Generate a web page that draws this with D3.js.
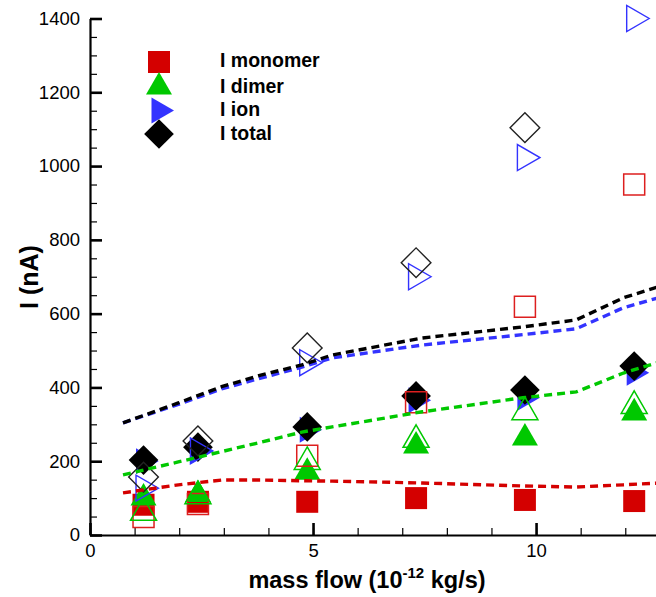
<!DOCTYPE html>
<html>
<head>
<meta charset="utf-8">
<script src="https://cdn.jsdelivr.net/npm/d3@7"></script>
<style>
  html, body { margin: 0; padding: 0; background: #fff; }
  svg { display: block; font-family: "Liberation Sans", Arial, Helvetica, sans-serif; }
</style>
</head>
<body>
<svg id="chart" width="656" height="597"></svg>
<script>
// ---- data ----
const massFlow = [1.2, 2.42, 4.87, 7.31, 9.75, 12.2];

// filled markers
const monomerFilled = [82, 90, 90, 100, 95, 92];
const dimerFilled   = [100, 110, 170, 241, 263, 331];
const ionFilled     = [200, 228, 285, 365, 372, 440];
const totalFilled   = [203, 238, 293, 377, 393, 458];

// open markers
const monomerOpen = [49, 84, 215, 360, 619, 950];
const dimerOpen   = [60, 105, 198, 258, 333, 350];
const ionOpen     = [127, 228, 467, 700, 1023, 1400];
const totalOpen   = [157, 255, 507, 738, 1104, null];

// dashed model curves
const modelX     = [0.74, 1.98, 2.95, 3.85, 4.75, 5.43, 7.45, 9.7, 10.9, 11.96, 12.8];
const modelTotal = [304, 358, 402, 434, 461, 488, 534, 564, 583, 643, 675];
const modelIon   = [304, 354, 396, 426, 455, 480, 515, 543, 559, 616, 645];
const modelDimer = [163, 198, 226, 252, 279, 293, 334, 372, 388, 439, 470];
const modelMono  = [114, 136, 149, 149, 147, 146, 141, 133, 130, 136, 141];

const xTicks = [0, 5, 10];
const yTicks = [0, 200, 400, 600, 800, 1000, 1200, 1400];
const legendLabels = ["I monomer", "I dimer", "I ion", "I total"];

const RED = "#d40000", GREEN = "#00c800", BLUE = "#3333ff", BLACK = "#000000";

// ---- scales ----
const x = d3.scaleLinear().domain([0, 12.7]).range([90, 656.5]);
const y = d3.scaleLinear().domain([0, 1400]).range([535, 18.5]);

const svg = d3.select("#chart");

svg.append("defs").append("clipPath").attr("id", "plotclip")
  .append("rect").attr("x", 90).attr("y", 0).attr("width", 570).attr("height", 536);

// ---- axes ----
const yMinor = d3.axisLeft(y).tickValues(d3.range(0, 1401, 50)).tickSize(-7).tickSizeOuter(0).tickFormat("");
const gYm = svg.append("g").attr("transform", `translate(${x(0)},0)`).call(yMinor);
gYm.select(".domain").remove();
gYm.selectAll("line").attr("stroke", "#000").attr("stroke-width", 1.2);

const yAxis = d3.axisLeft(y).tickValues(yTicks).tickSize(-12).tickSizeOuter(0).tickPadding(10)
  .tickFormat(d3.format("d"));
const gY = svg.append("g").attr("transform", `translate(${x(0)},0)`).call(yAxis);
gY.select(".domain").attr("stroke", "#000").attr("stroke-width", 2.2);
gY.selectAll("line").attr("stroke", "#000").attr("stroke-width", 2.6);
gY.selectAll("text").attr("font-size", 18.5).attr("fill", "#000").attr("font-family", "Liberation Sans, Arial, sans-serif");

const xMinor = d3.axisBottom(x).tickValues(d3.range(0, 13, 1)).tickSize(-7).tickSizeOuter(0).tickFormat("");
const gXm = svg.append("g").attr("transform", `translate(0,${y(0)})`).call(xMinor);
gXm.select(".domain").remove();
gXm.selectAll("line").attr("stroke", "#000").attr("stroke-width", 1.2);

const xAxis = d3.axisBottom(x).tickValues(xTicks).tickSize(-12).tickSizeOuter(0).tickPadding(9)
  .tickFormat(d3.format("d"));
const gX = svg.append("g").attr("transform", `translate(0,${y(0)})`).call(xAxis);
gX.select(".domain").attr("stroke", "#000").attr("stroke-width", 2.2);
gX.selectAll("line").attr("stroke", "#000").attr("stroke-width", 2.6);
gX.selectAll("text").attr("font-size", 18.5).attr("fill", "#000").attr("font-family", "Liberation Sans, Arial, sans-serif");

// axis titles
const xt = svg.append("text").attr("x", 367).attr("y", 588).attr("text-anchor", "middle")
  .attr("font-size", 23.5).attr("font-weight", "bold").attr("fill", "#000");
xt.append("tspan").text("mass flow (10");
xt.append("tspan").attr("font-size", 15).attr("dy", -10).text("-12");
xt.append("tspan").attr("dy", 10).text(" kg/s)");

svg.append("text").attr("transform", "translate(38,277) rotate(-90)").attr("text-anchor", "middle")
  .attr("font-size", 25).attr("font-weight", "bold").attr("fill", "#000").text("I (nA)");

// ---- marker shapes ----
const sq = d3.symbol().type(d3.symbolSquare).size(22 * 22)();
const sqOpen = d3.symbol().type(d3.symbolSquare).size(21 * 21)();
const tri = d3.symbol().type(d3.symbolTriangle).size(293)();
const dia = d3.symbol().type(d3.symbolSquare).size(21 * 21)();

const plot = svg.append("g").attr("clip-path", "url(#plotclip)");

function drawSeries(values, path, rot, fill, stroke, sw) {
  const pts = massFlow.map((m, i) => ({ m, v: values[i] })).filter(d => d.v != null);
  plot.append("g").selectAll("path").data(pts).join("path")
    .attr("d", path)
    .attr("transform", d => `translate(${x(d.m)},${y(d.v)}) rotate(${rot})`)
    .attr("fill", fill).attr("stroke", stroke).attr("stroke-width", sw);
}

// filled
drawSeries(monomerFilled, sq, 0, RED, "none", 0);
drawSeries(dimerFilled, tri, 0, GREEN, "none", 0);
drawSeries(ionFilled, tri, 90, BLUE, "none", 0);
drawSeries(totalFilled, dia, 45, BLACK, "none", 0);
// open
drawSeries(monomerOpen, sqOpen, 0, "none", "#dd1f1f", 1.5);
drawSeries(dimerOpen, tri, 0, "none", GREEN, 1.5);
drawSeries(ionOpen, tri, 90, "none", BLUE, 1.4);
drawSeries(totalOpen, dia, 45, "none", "#222", 1.4);

// dashed model lines
const line = d3.line().x(d => x(d[0])).y(d => y(d[1]));
[[modelMono, RED], [modelDimer, GREEN], [modelIon, BLUE], [modelTotal, BLACK]].forEach(([vals, col]) => {
  plot.append("path")
    .attr("d", line(modelX.map((m, i) => [m, vals[i]])))
    .attr("fill", "none").attr("stroke", col).attr("stroke-width", 3.4)
    .attr("stroke-dasharray", "8,5");
});

// ---- legend ----
const legendShapes = [
  { path: sq, rot: 0, fill: RED, cy: 62 },
  { path: tri, rot: 0, fill: GREEN, cy: 87 },
  { path: tri, rot: 90, fill: BLUE, cy: 110.5 },
  { path: dia, rot: 45, fill: BLACK, cy: 134 }
];
const leg = svg.append("g");
legendShapes.forEach((s, i) => {
  leg.append("path").attr("d", s.path)
    .attr("transform", `translate(159,${s.cy}) rotate(${s.rot})`)
    .attr("fill", s.fill);
  leg.append("text").attr("x", 220).attr("y", [67, 93, 116, 140][i])
    .attr("font-size", 19.5).attr("font-weight", "bold").attr("fill", "#000")
    .text(legendLabels[i]);
});
</script>
</body>
</html>
